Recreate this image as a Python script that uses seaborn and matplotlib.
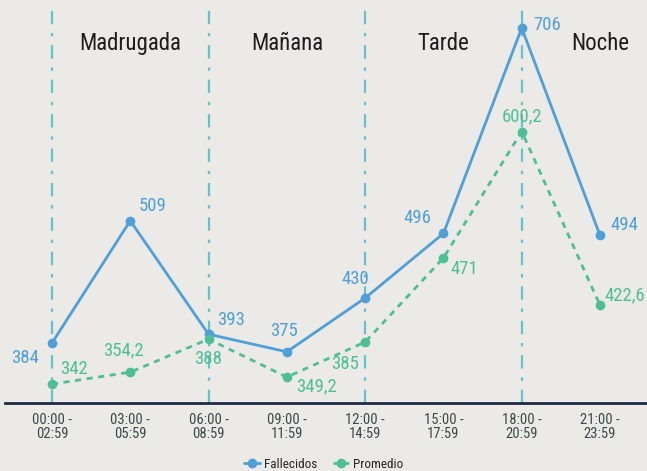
import pandas as pd
import matplotlib.pyplot as plt
import seaborn as sns

franjas = ['00:00 -\n02:59', '03:00 -\n05:59', '06:00 -\n08:59', '09:00 -\n11:59',
           '12:00 -\n14:59', '15:00 -\n17:59', '18:00 -\n20:59', '21:00 -\n23:59']
fallecidos = [384, 509, 393, 375, 430, 496, 706, 494]
promedio = [342, 354.2, 388, 349.2, 385, 471, 600.2, 422.6]
periodos = ['Madrugada', 'Mañana', 'Tarde', 'Noche']

fondo = '#EBEAE7'
azul = '#4F9FD9'
verde = '#4DBF97'
turquesa = '#62C3C9'

sns.set_style('white')
plt.rcParams['font.family'] = ['Roboto Condensed', 'Liberation Sans Narrow', 'DejaVu Sans']
plt.rcParams['font.stretch'] = 'condensed'

df = pd.DataFrame({'x': range(len(franjas)), 'Fallecidos': fallecidos, 'Promedio': promedio})

fig = plt.figure(figsize=(6.47, 4.71), dpi=100, facecolor=fondo)
ax = fig.add_axes([5 / 647, 68 / 471, 642 / 647, 393 / 471])
ax.set_facecolor(fondo)

# lineas verticales de los periodos
for i in [0, 2, 4, 6]:
    ax.axvline(i, color=turquesa, lw=1.6, ls=(0, (6, 4, 1.5, 4)), zorder=1)

sns.lineplot(data=df, x='x', y='Fallecidos', ax=ax, color=azul, lw=2, marker='o',
             markersize=7, markeredgewidth=0, label='Fallecidos', zorder=3)
sns.lineplot(data=df, x='x', y='Promedio', ax=ax, color=verde, lw=2, marker='o',
             markersize=7, markeredgewidth=0, label='Promedio', zorder=3)
ax.lines[-1].set_linestyle((0, (2.2, 2)))

# etiquetas de valores
off_f = [(-27, -15), (22, 15), (23, 14), (-3, 21), (-10, 19), (-26, 15), (25, 3), (24, 10)]
off_p = [(22, 15), (-7, 22), (0, -20), (30, -9), (-20, -22), (21, -11), (0, 15), (25, 10)]
for i, v in enumerate(fallecidos):
    ax.annotate(f'{v:g}'.replace('.', ','), (i, v), xytext=off_f[i], textcoords='offset pixels',
                ha='center', va='center', color=azul, fontsize=13.5)
for i, v in enumerate(promedio):
    ax.annotate(f'{v:g}'.replace('.', ','), (i, v), xytext=off_p[i], textcoords='offset pixels',
                ha='center', va='center', color=verde, fontsize=13.5)

for j, p in enumerate(periodos):
    ax.text(2 * j + 1, 690, p, ha='center', va='center', fontsize=16.5, color='#1E1E1E')

ax.set_xlim(-0.6, 7.6)
ax.set_ylim(322.7, 724.4)
ax.set_xticks(range(len(franjas)))
ax.set_xticklabels(franjas, fontsize=10.5, color='#3A4A4A', linespacing=1.05)
ax.set_yticks([])
ax.set_xlabel('')
ax.set_ylabel('')
for s in ['top', 'right', 'left']:
    ax.spines[s].set_visible(False)
ax.spines['bottom'].set_color('#1F2A44')
ax.spines['bottom'].set_linewidth(2)
ax.tick_params(axis='x', colors='#1F2A44', length=5, width=2, labelcolor='#3A4A4A', pad=2)

h, l = ax.get_legend_handles_labels()
ax.get_legend().remove()
fig.legend(h, l, loc='lower center', bbox_to_anchor=(0.5, -0.025), ncol=2, frameon=False,
           fontsize=9.5, handlelength=1.2, columnspacing=1.2, handletextpad=0.3)

plt.savefig('out.png', dpi=100, facecolor=fondo)
